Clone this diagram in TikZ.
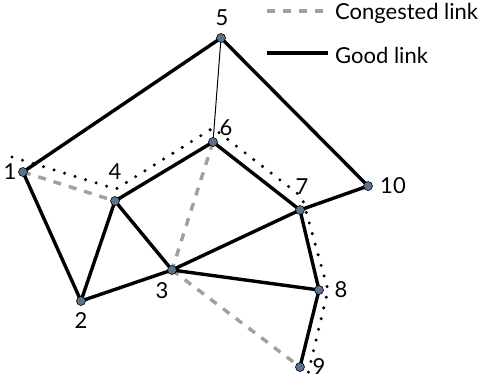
\documentclass[tikz,border=0pt]{standalone}
\usepackage{fontspec}
\setmainfont{Lato}
\usetikzlibrary{calc,backgrounds}
\definecolor{vfill}{RGB}{92,114,142}
\definecolor{congest}{RGB}{160,160,160}
\tikzset{
  vert/.style={circle,draw=black,line width=0.6pt,fill=vfill,inner sep=0pt,minimum size=9pt},
  lab/.style={inner sep=0pt,font=\fontsize{22}{26}\selectfont},
  good/.style={line width=3.4pt,black},
  thinlink/.style={line width=1pt,black},
  congested/.style={line width=3.4pt,congest,dash pattern=on 8pt off 8pt},
  route/.style={line width=3.4pt,black,dash pattern=on 0pt off 11pt,line cap=round},
}
\begin{document}
\begin{tikzpicture}[x=1pt,y=-1pt]
\useasboundingbox (0,0) rectangle (487,381);
% vertices
\node[vert] (n1) at (23,172) {};
\node[vert] (n2) at (81,301) {};
\node[vert] (n3) at (172,270) {};
\node[vert] (n4) at (115,201) {};
\node[vert] (n5) at (221,38) {};
\node[vert] (n6) at (213,142) {};
\node[vert] (n7) at (300,210) {};
\node[vert] (n8) at (319,290) {};
\node[vert] (n9) at (300,367) {};
\node[vert] (n10) at (368,186) {};
% labels
\node[lab] (l1) at (10,172) {1};
\node[lab] (l2) at (81,321) {2};
\node[lab] (l3) at (162,291) {3};
\node[lab] (l4) at (115,172) {4};
\node[lab] (l5) at (222,18) {5};
\node[lab] (l6) at (226,128) {6};
\node[lab] (l7) at (302,187) {7};
\node[lab] (l8) at (341,290) {8};
\node[lab] (l9) at (319,367) {9};
\node[lab] (l10) at (393,186) {10};
% legend
\coordinate (c1) at (267,11);
\coordinate (c2) at (324,11);
\coordinate (g1) at (267,53);
\coordinate (g2) at (328,53);
\node[lab,anchor=west] (tc) at (335,13) {Congested link};
\node[lab,anchor=west] (tg) at (335,55) {Good link};
\begin{scope}[on background layer]
\draw[congested] (c1) -- (c2);
\draw[good] (g1) -- (g2);
% route (dotted)
\draw[route] ($(n1)+(-11,-15)$) -- ($(n4)+(1,-12)$) -- ($(n6)+(0,-14)$) -- ($(n7)+(2,-13)$) -- ($(n8)+(9,0)$) -- ($(n9)+(7,11)$);
% congested links
\draw[congested] (n1.center) -- (n4.center);
\draw[congested] (n6.center) -- (n3.center);
\draw[congested] (n3.center) -- (n9.center);
% good links
\draw[good] (n1.center) -- (n5.center);
\draw[good] (n5.center) -- (n10.center);
\draw[good] (n10.center) -- (n7.center);
\draw[good] (n1.center) -- (n2.center);
\draw[good] (n2.center) -- (n4.center);
\draw[good] (n2.center) -- (n3.center);
\draw[good] (n4.center) -- (n3.center);
\draw[good] (n4.center) -- (n6.center);
\draw[good] (n6.center) -- (n7.center);
\draw[good] (n7.center) -- (n3.center);
\draw[good] (n3.center) -- (n8.center);
\draw[good] (n7.center) -- (n8.center);
\draw[good] (n8.center) -- (n9.center);
\draw[thinlink] (n5.center) -- (n6.center);
\end{scope}
\end{tikzpicture}
\end{document}
